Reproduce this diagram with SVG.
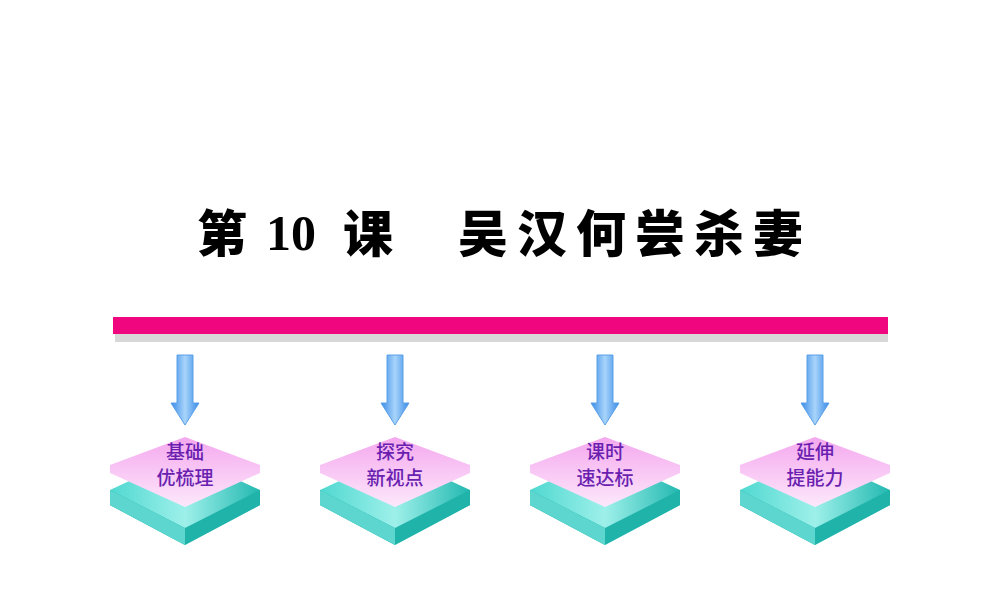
<svg xmlns="http://www.w3.org/2000/svg" width="1000" height="600" viewBox="0 0 1000 600">
<defs>
<linearGradient id="ar" x1="0" x2="1" y1="0" y2="0"><stop offset="0" stop-color="#3a8be8"/><stop offset="0.5" stop-color="#a8d4fa"/><stop offset="1" stop-color="#3a8be8"/></linearGradient>
<linearGradient id="pk" x1="0" x2="0" y1="0" y2="1"><stop offset="0" stop-color="#f4a8ee"/><stop offset="1" stop-color="#fde8fb"/></linearGradient>
<linearGradient id="tl" x1="0" x2="1" y1="0" y2="0"><stop offset="0" stop-color="#4fd8d0"/><stop offset="0.5" stop-color="#9ef0ea"/><stop offset="1" stop-color="#22b8b0"/></linearGradient>
<g id="stack">
<polygon points="-75,25 0,-10 75,25 75,40 0,80 -75,40" fill="url(#tl)"/>
<polygon points="-75,25 0,63 75,25 75,40 0,80 -75,40" fill="#1fb3aa"/>
<polygon points="-75,25 0,63 0,80 -75,40" fill="#5cd6ce"/>
<polygon points="0,-28 75,0 75,8 0,42 -75,8 -75,0" fill="url(#pk)"/>
</g>
<g id="arrow"><polygon points="-8,0 8,0 8,48 14,48 0,70 -14,48 -8,48" fill="url(#ar)" stroke="#5aa0e8" stroke-width="1"/></g>
</defs>
<style>.t{font-family:"Noto Sans CJK SC","Noto Sans",sans-serif;font-size:19px;fill:#6a1fb0;text-anchor:middle;font-weight:500}
.h{font-family:"Noto Sans CJK SC",sans-serif;font-size:50px;font-weight:900}
.n{font-family:"Liberation Serif",serif;font-size:50px;font-weight:bold}</style>
<rect width="1000" height="600" fill="#fff"/>
<text class="h" x="197" y="252">第</text>
<text class="n" x="266" y="250">10</text>
<text class="h" x="343" y="252">课</text>
<text class="h" x="458" y="252" textLength="345" lengthAdjust="spacing">吴汉何尝杀妻</text>
<rect x="115" y="326" width="773" height="16" fill="#d8d8d8"/>
<rect x="113" y="317" width="775" height="17" fill="#f0077f"/>
<g id="connectors">
<use href="#arrow" x="185" y="355"/><use href="#arrow" x="395" y="355"/><use href="#arrow" x="605" y="355"/><use href="#arrow" x="815" y="355"/>
</g>
<g id="n1"><use href="#stack" x="185" y="465"/><text class="t" x="185" y="459">基础</text><text class="t" x="185" y="485">优梳理</text></g>
<g id="n2"><use href="#stack" x="395" y="465"/><text class="t" x="395" y="459">探究</text><text class="t" x="395" y="485">新视点</text></g>
<g id="n3"><use href="#stack" x="605" y="465"/><text class="t" x="605" y="459">课时</text><text class="t" x="605" y="485">速达标</text></g>
<g id="n4"><use href="#stack" x="815" y="465"/><text class="t" x="815" y="459">延伸</text><text class="t" x="815" y="485">提能力</text></g>
</svg>
